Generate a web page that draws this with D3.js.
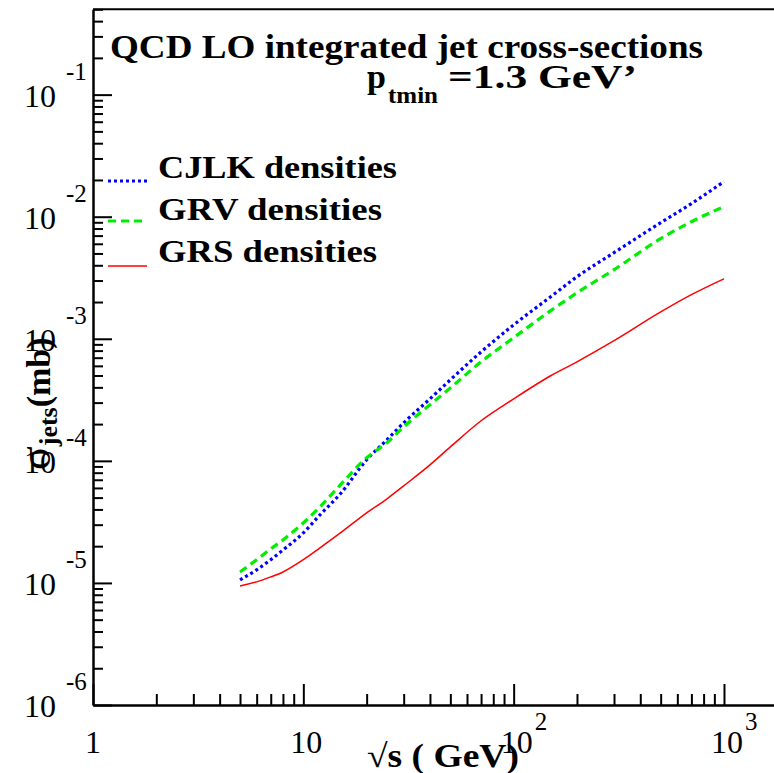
<!DOCTYPE html>
<html>
<head>
<meta charset="utf-8">
<script src="https://cdn.jsdelivr.net/npm/d3@7"></script>
<style>
  body { margin: 0; background: #fff; }
  text { font-family: "Liberation Serif", "Times New Roman", serif; }
</style>
</head>
<body>
<div id="target"></div>
<script>
// sqrt(s) in GeV
const energies = [5, 6, 7, 8, 10, 12, 15, 20, 25, 30, 40, 50, 70, 100, 150, 200, 300, 500, 700, 1000];
// sigma_jets in mb
const cjlk = [1.06e-5, 1.28e-5, 1.55e-5, 1.86e-5, 2.57e-5, 3.61e-5, 5.37e-5, 1.02e-4, 1.49e-4, 2.05e-4,
  3.22e-4, 4.61e-4, 7.8e-4, 1.30e-3, 2.21e-3, 3.22e-3, 5.07e-3, 8.93e-3, 1.28e-2, 1.94e-2];
const grv = [1.23e-5, 1.55e-5, 1.90e-5, 2.25e-5, 3.10e-5, 4.20e-5, 6.35e-5, 1.06e-4, 1.41e-4, 1.90e-4,
  2.88e-4, 3.96e-4, 6.47e-4, 1.02e-3, 1.70e-3, 2.38e-3, 3.68e-3, 6.61e-3, 9.10e-3, 1.21e-2];
const grs = [9.44e-6, 1.02e-5, 1.12e-5, 1.23e-5, 1.55e-5, 1.94e-5, 2.57e-5, 3.75e-5, 4.89e-5, 6.24e-5,
  9.27e-5, 1.30e-4, 2.13e-4, 3.22e-4, 4.98e-4, 6.47e-4, 9.64e-4, 1.66e-3, 2.30e-3, 3.10e-3];

const seriesNames = ["CJLK densities", "GRV densities", "GRS densities"];
const xMajor = [1, 10, 100, 1000];
const xLabels = ["1", "10", "10", "10"];
const xExps = ["", "", "2", "3"];
const yMajor = [1e-1, 1e-2, 1e-3, 1e-4, 1e-5, 1e-6];
const yExps = ["-1", "-2", "-3", "-4", "-5", "-6"];

function chart() {
  const width = 774,
    height = 773,
    left = 93,
    bottom = 705,
    top = 9.3;

  const svg = d3.select("#target").append("svg")
    .attr("width", width)
    .attr("height", height);

  const x = d3.scaleLog()
    .domain([1, 1729])
    .range([left, width]);
  const y = d3.scaleLog()
    .domain([1e-6, 0.5])
    .range([bottom, top]);

  // minor ticks between decades
  const minorX = [];
  for (let d = 1; d < 2000; d *= 10) {
    for (let k = 2; k <= 9; k++) if (d * k < 1729) minorX.push(d * k);
  }
  const minorY = [];
  for (let d = 1e-6; d < 1; d *= 10) {
    for (let k = 2; k <= 9; k++) if (d * k <= 0.5) minorY.push(d * k);
  }

  const axisStyle = (g) => {
    g.selectAll("path, line").attr("stroke", "#000").attr("stroke-width", 2);
    g.selectAll("text").remove();
  };

  svg.append("g")
    .attr("transform", `translate(0,${bottom})`)
    .call(d3.axisBottom(x).tickValues(xMajor).tickSizeInner(-21).tickSizeOuter(0).tickFormat(""))
    .call(axisStyle);
  svg.append("g")
    .attr("transform", `translate(0,${bottom})`)
    .call(d3.axisBottom(x).tickValues(minorX).tickSizeInner(-11).tickSizeOuter(0).tickFormat(""))
    .call(axisStyle);
  svg.append("g")
    .attr("transform", `translate(${left},0)`)
    .call(d3.axisLeft(y).tickValues(yMajor).tickSizeInner(-19).tickSizeOuter(0).tickFormat(""))
    .call(axisStyle);
  svg.append("g")
    .attr("transform", `translate(${left},0)`)
    .call(d3.axisLeft(y).tickValues(minorY).tickSizeInner(-10).tickSizeOuter(0).tickFormat(""))
    .call(axisStyle);

  // top frame line
  svg.append("line")
    .attr("x1", left).attr("x2", width)
    .attr("y1", top).attr("y2", top)
    .attr("stroke", "#000").attr("stroke-width", 2);

  // x tick labels
  xMajor.forEach((v, i) => {
    const px = x(v);
    if (xExps[i] === "" && v === 1) {
      svg.append("text").attr("x", px).attr("y", 753)
        .attr("text-anchor", "middle").attr("font-size", 32).text(xLabels[i]);
    } else {
      svg.append("text").attr("x", px - 13).attr("y", 753)
        .attr("font-size", 32).text(xLabels[i]);
      if (xExps[i]) {
        svg.append("text").attr("x", px + 21).attr("y", 730)
          .attr("font-size", 25).text(xExps[i]);
      }
    }
  });

  // y tick labels
  yMajor.forEach((v, i) => {
    const py = y(v);
    svg.append("text").attr("x", 56).attr("y", py + 12)
      .attr("text-anchor", "end").attr("font-size", 32).text("10");
    svg.append("text").attr("x", 66).attr("y", py - 15)
      .attr("font-size", 25).text(yExps[i]);
  });

  // curves
  const line = d3.line()
    .x((d) => x(d[0]))
    .y((d) => y(d[1]))
    .curve(d3.curveMonotoneX);
  const styles = [
    { color: "#0000ff", width: 3.2, dash: "3,3" },
    { color: "#00ee00", width: 3.2, dash: "8,5" },
    { color: "#ff0000", width: 1.5, dash: null }
  ];
  [cjlk, grv, grs].forEach((vals, i) => {
    svg.append("path")
      .datum(energies.map((e, j) => [e, vals[j]]))
      .attr("fill", "none")
      .attr("stroke", styles[i].color)
      .attr("stroke-width", styles[i].width)
      .attr("stroke-dasharray", styles[i].dash)
      .attr("d", line);
  });

  // legend
  const legY = [181, 221, 266];
  const legText = [178, 220, 262];
  const legW = [239, 224, 219];
  seriesNames.forEach((name, i) => {
    svg.append("line")
      .attr("x1", 108).attr("x2", 147)
      .attr("y1", legY[i]).attr("y2", legY[i])
      .attr("stroke", styles[i].color)
      .attr("stroke-width", styles[i].width)
      .attr("stroke-dasharray", styles[i].dash);
    svg.append("text")
      .attr("x", 158).attr("y", legText[i])
      .attr("font-size", 31).attr("font-weight", "bold")
      .attr("textLength", legW[i]).attr("lengthAdjust", "spacingAndGlyphs")
      .text(name);
  });

  // title
  svg.append("text")
    .attr("x", 110).attr("y", 58)
    .attr("font-size", 34).attr("font-weight", "bold")
    .attr("textLength", 593).attr("lengthAdjust", "spacingAndGlyphs")
    .text("QCD LO integrated jet cross-sections");
  svg.append("text")
    .attr("x", 367).attr("y", 88)
    .attr("font-size", 34).attr("font-weight", "bold")
    .text("p");
  svg.append("text")
    .attr("x", 388).attr("y", 103)
    .attr("font-size", 23).attr("font-weight", "bold")
    .attr("textLength", 50).attr("lengthAdjust", "spacingAndGlyphs")
    .text("tmin");
  svg.append("text")
    .attr("x", 448).attr("y", 88)
    .attr("font-size", 34).attr("font-weight", "bold")
    .attr("textLength", 189).attr("lengthAdjust", "spacingAndGlyphs")
    .text("=1.3 GeV\u2019");

  // axis titles
  svg.append("text")
    .attr("x", 367).attr("y", 767)
    .attr("font-size", 33).attr("font-weight", "bold")
    .attr("textLength", 152).attr("lengthAdjust", "spacingAndGlyphs")
    .text("\u221As ( GeV)");

  const yt = svg.append("text")
    .attr("transform", "translate(50,470) rotate(-90)")
    .attr("font-weight", "bold");
  yt.append("tspan").attr("font-size", 44).attr("font-weight", "normal").text("\u03C3");
  yt.append("tspan").attr("font-size", 26).attr("dy", 7).text("jets");
  yt.append("tspan").attr("font-size", 34).attr("dy", -7).text("(mb)");
}
chart();
</script>
</body>
</html>
